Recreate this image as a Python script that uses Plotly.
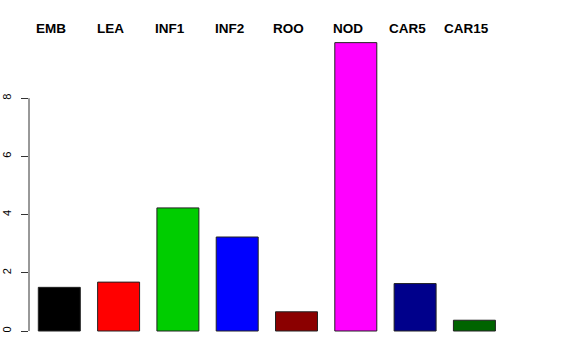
import plotly.graph_objects as go

categories = ["EMB", "LEA", "INF1", "INF2", "ROO", "NOD", "CAR5", "CAR15"]
values = [1.50, 1.68, 4.23, 3.23, 0.66, 9.91, 1.63, 0.37]
colors = ["#000000", "#FF0000", "#00CD00", "#0000FF", "#8B0000", "#FF00FF", "#00008B", "#006400"]
y_ticks = [0, 2, 4, 6, 8]

xpos = list(range(len(categories)))

fig = go.Figure()
fig.add_trace(go.Bar(
    x=xpos, y=values, width=0.708,
    marker=dict(color=colors, line=dict(color="#222222", width=1)),
    hoverinfo="skip", showlegend=False,
))

for i, c in enumerate(categories):
    fig.add_annotation(x=i, y=1, xref="x", yref="paper", yanchor="bottom",
                       text="<b>%s</b>" % c, showarrow=False, xshift=-8, yshift=-7,
                       font=dict(family="Liberation Sans, Arial", size=13.5, color="black"))

fig.add_shape(type="line", xref="paper", yref="y", x0=0, x1=0, y0=y_ticks[0], y1=y_ticks[-1],
              line=dict(color="#333333", width=1))

fig.update_layout(
    width=576, height=360,
    margin=dict(l=29, r=20, t=31, b=18, autoexpand=False),
    plot_bgcolor="white", paper_bgcolor="white",
    xaxis=dict(range=[-0.511, 8.376], showticklabels=False, showgrid=False,
               zeroline=False, showline=False, ticks="", automargin=False),
    yaxis=dict(range=[-0.378, 10.31], tickvals=y_ticks, ticktext=[str(v) for v in y_ticks],
               showgrid=False, zeroline=False, showline=False, automargin=False,
               ticks="outside", ticklen=7, tickcolor="#333333", tickwidth=1,
               tickangle=-90, ticklabelstandoff=6,
               tickfont=dict(family="Liberation Sans, Arial", size=11, color="black")),
    font=dict(family="Liberation Sans, Arial"),
)

fig.write_html("out.html")
